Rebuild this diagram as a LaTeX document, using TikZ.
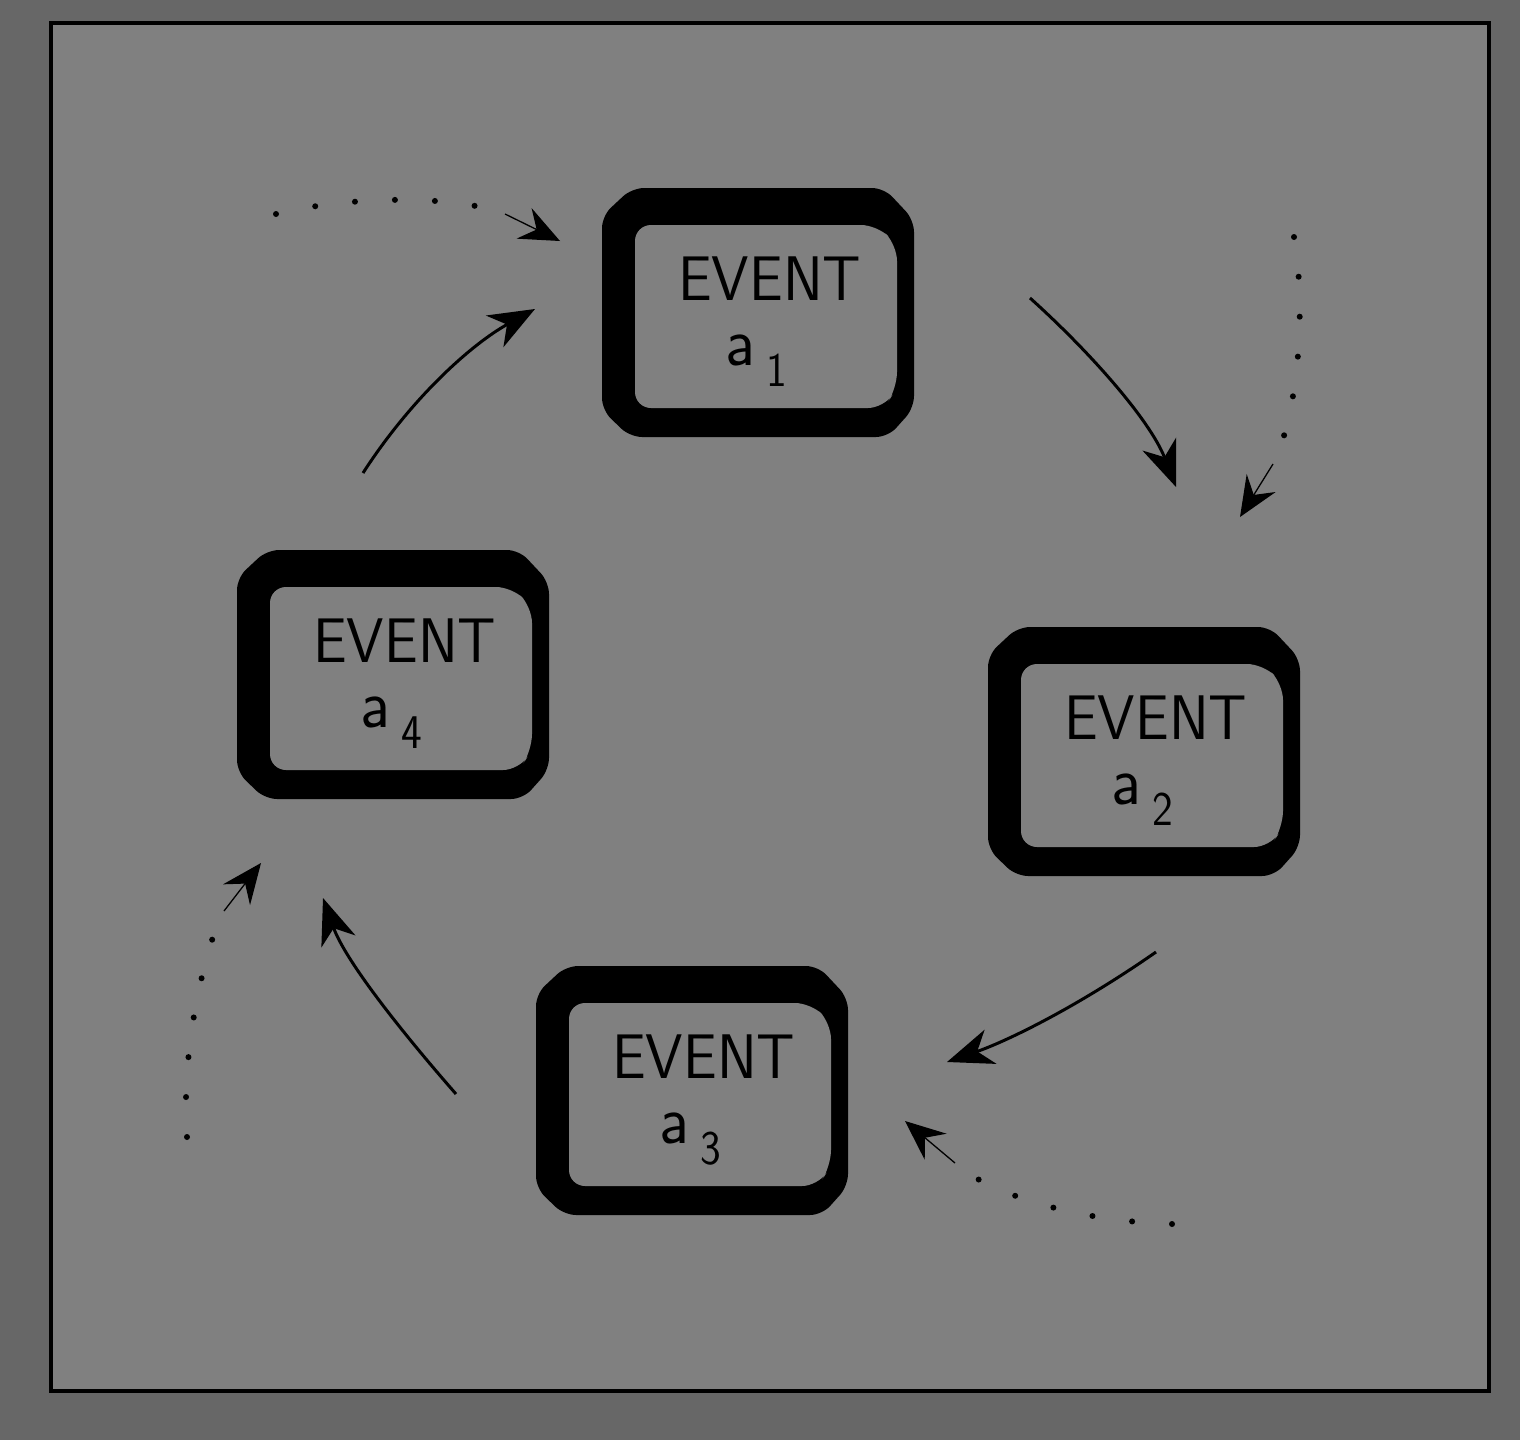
\documentclass[tikz,border=0pt]{standalone}
\usepackage{fontspec}
\usetikzlibrary{arrows.meta}
\definecolor{bgout}{HTML}{676767}
\definecolor{panel}{HTML}{808080}
\tikzset{
  boxnode/.style={rectangle, draw=none, minimum width=312pt, minimum height=249pt, inner sep=0pt},
  outerfill/.style={fill=black, rounded corners=12pt},
  innerbox/.style={fill=panel, rounded corners=16pt},
  evtext/.style={inner sep=0pt, font=\sffamily\fontsize{60}{66}\selectfont, anchor=base west},
  atext/.style={inner sep=0pt, font=\sffamily\fontsize{66}{70}\selectfont, anchor=base west},
  subtext/.style={inner sep=0pt, font=\sffamily\fontsize{44}{50}\selectfont, anchor=base west},
  solarrow/.style={line width=3pt, draw=black, -{Stealth[length=46pt,width=36pt,inset=14pt]}},
  dotpath/.style={line width=6pt, line cap=round, dash pattern=on 0pt off 40pt},
  thinarrow/.style={line width=1.3pt, -{Stealth[length=40pt,width=34pt,inset=14pt]}},
}
\newcommand\eventbox[4]{%
  \begin{scope}[shift={(#2,#3)}]
  \fill[outerfill] (30,0) -- (282,0) -- (312,32) -- (312,220) -- (286,249) -- (28,249) -- (0,222) -- (0,28) -- cycle;
  \fill[innerbox] (33,37) -- (275,37) -- (295,57) -- (295,200) -- (282,220) -- (33,220) -- cycle;
  \node[boxnode, anchor=north west] (#1) at (0,0) {};
  \node[evtext] (#1-t) at (76,112) {\scalebox{1}[1.05]{EVENT}};
  \node[atext] (#1-a) at (123,177) {\scalebox{1}[1.05]{a}};
  \node[subtext] (#1-s) at (164,198) {\scalebox{1}[1.1]{#4}};
  \end{scope}
}
\begin{document}
\begin{tikzpicture}[x=1pt,y=-1pt]
\fill[bgout] (0,0) rectangle (1520,1440);
\useasboundingbox (0,0) rectangle (1520,1440);
\draw[line width=4pt, fill=panel] (51,23) rectangle (1489,1391);

\eventbox{e1}{602}{188}{1}
\eventbox{e2}{988}{627}{2}
\eventbox{e3}{536}{966}{3}
\eventbox{e4}{237}{550}{4}

% solid connectors
\coordinate (a1s) at (1030,298); \coordinate (a1e) at (1176,487);
\coordinate (a2s) at (1156,952); \coordinate (a2e) at (947,1062);
\coordinate (a3s) at (456,1094); \coordinate (a3e) at (323,898);
\coordinate (a4s) at (363,473);  \coordinate (a4e) at (535,309);
\draw[solarrow] (a1s) .. controls (1090,352) and (1150,420) .. (a1e);
\draw[solarrow] (a2s) .. controls (1080,1005) and (1010,1040) .. (a2e);
\draw[solarrow] (a3s) .. controls (400,1030) and (345,960) .. (a3e);
\draw[solarrow] (a4s) .. controls (410,400) and (470,345) .. (a4e);

% dotted connectors
\coordinate (d1s) at (276,214); \coordinate (d1m) at (485,208);
\coordinate (d1n) at (505,214); \coordinate (d1e) at (560,241);
\draw[dotpath] (d1s) .. controls (340,198) and (430,195) .. (d1m);
\draw[thinarrow] (d1n) -- (d1e);

\coordinate (d2s) at (1294,237); \coordinate (d2m) at (1281,445);
\coordinate (d2n) at (1273,464); \coordinate (d2e) at (1240,517);
\draw[dotpath] (d2s) .. controls (1305,300) and (1300,390) .. (d2m);
\draw[thinarrow] (d2n) -- (d2e);

\coordinate (d3s) at (1172,1224); \coordinate (d3m) at (969,1174);
\coordinate (d3n) at (955,1163); \coordinate (d3e) at (905,1121);
\draw[dotpath] (d3s) .. controls (1100,1222) and (1020,1205) .. (d3m);
\draw[thinarrow] (d3n) -- (d3e);

\coordinate (d4s) at (187,1137); \coordinate (d4m) at (215,931);
\coordinate (d4n) at (224,911); \coordinate (d4e) at (261,863);
\draw[dotpath] (d4s) .. controls (182,1070) and (195,990) .. (d4m);
\draw[thinarrow] (d4n) -- (d4e);
\end{tikzpicture}
\end{document}
